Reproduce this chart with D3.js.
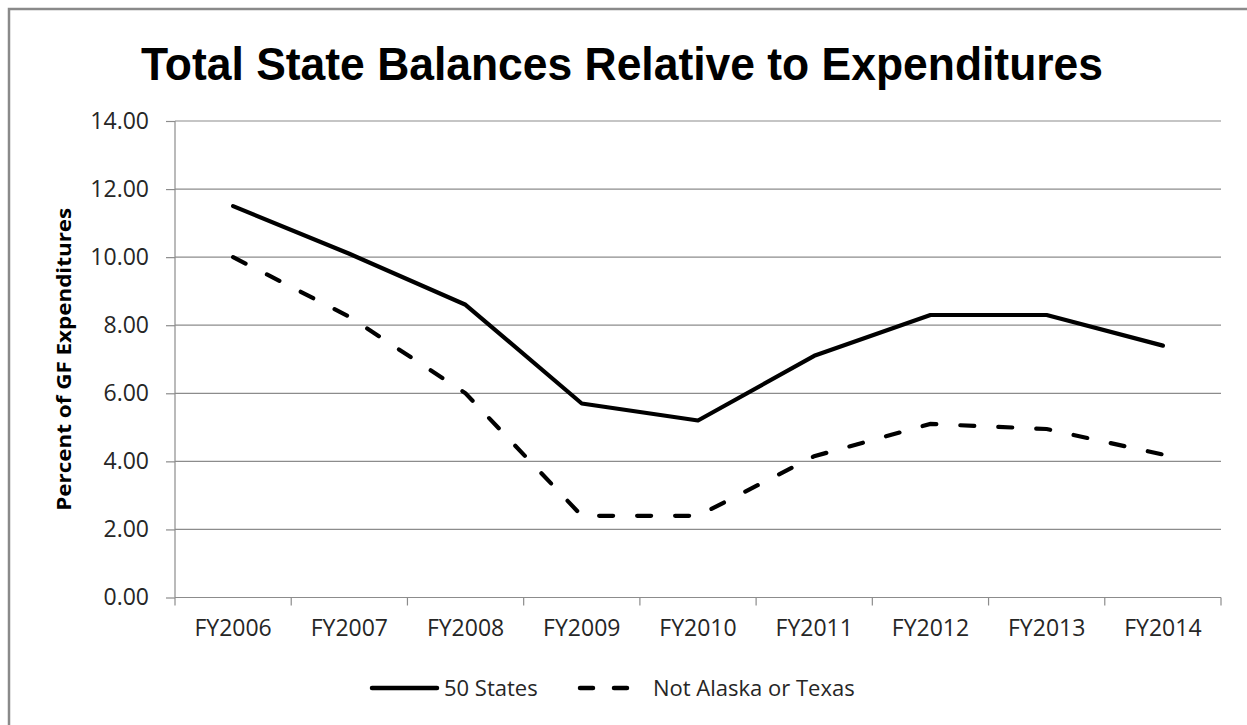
<!DOCTYPE html>
<html>
<head>
<meta charset="utf-8">
<script src="https://cdn.jsdelivr.net/npm/d3@7"></script>
<style>
  html, body { margin: 0; padding: 0; background: #fff; }
  svg { display: block; }
</style>
</head>
<body>
<div id="chart"></div>
<script>
// ---- data ----
const categories = ["FY2006", "FY2007", "FY2008", "FY2009", "FY2010", "FY2011", "FY2012", "FY2013", "FY2014"];
const states50 = [11.5, 10.1, 8.6, 5.7, 5.2, 7.1, 8.3, 8.3, 7.4];
const notAlaskaTexas = [10.0, 8.25, 6.0, 2.4, 2.4, 4.15, 5.1, 4.95, 4.2];
const yTicks = [0, 2, 4, 6, 8, 10, 12, 14];
const seriesNames = ["50 States", "Not Alaska or Texas"];
const titleText = "Total State Balances Relative to Expenditures";
const yTitle = "Percent of GF Expenditures";

// ---- layout ----
const W = 1247, H = 725;
const plot = { left: 175, right: 1221, top: 121, bottom: 597.5 };
const font = "'Open Sans', 'Liberation Sans', sans-serif";

const svg = d3.select("#chart").append("svg")
  .attr("width", W).attr("height", H);

svg.append("rect").attr("width", W).attr("height", H).attr("fill", "#fff");

// outer frame
svg.append("rect")
  .attr("x", 9).attr("y", 9)
  .attr("width", W + 20).attr("height", H + 20)
  .attr("fill", "none").attr("stroke", "#8a8a8a").attr("stroke-width", 2.5);

const x = d3.scaleBand().domain(categories).range([plot.left, plot.right]);
const y = d3.scaleLinear().domain([0, 14]).range([plot.bottom, plot.top]);

// gridlines
svg.append("g").selectAll("line").data(yTicks.filter(d => d > 0)).join("line")
  .attr("x1", plot.left).attr("x2", plot.right)
  .attr("y1", d => y(d)).attr("y2", d => y(d))
  .attr("stroke", "#8c8c8c").attr("stroke-width", 1.2);

// y axis
const yAxis = d3.axisLeft(y).tickValues(yTicks).tickFormat(d3.format(".2f")).tickSize(9).tickPadding(17);
const gy = svg.append("g").attr("transform", `translate(${plot.left},0)`).call(yAxis);
gy.select(".domain").attr("stroke", "#8c8c8c").attr("stroke-width", 1.2).attr("d", `M0,${plot.top}V${plot.bottom}`);
gy.selectAll(".tick line").attr("stroke", "#8c8c8c").attr("stroke-width", 1.2);
gy.selectAll(".tick text").attr("font-family", font).attr("font-size", 23).attr("fill", "#262626");

// x axis
const xAxis = d3.axisBottom(x).tickSize(0).tickPadding(22);
const gx = svg.append("g").attr("transform", `translate(0,${plot.bottom})`).call(xAxis);
gx.select(".domain").attr("stroke", "#8c8c8c").attr("stroke-width", 1.2).attr("d", `M${plot.left},0H${plot.right}`);
gx.selectAll(".tick text").attr("font-family", font).attr("font-size", 23).attr("fill", "#262626");
// category boundary tick marks
const bounds = categories.map(c => x(c)).concat([x(categories[categories.length - 1]) + x.bandwidth()]);
svg.append("g").selectAll("line").data(bounds).join("line")
  .attr("x1", d => d).attr("x2", d => d)
  .attr("y1", plot.bottom).attr("y2", plot.bottom + 8)
  .attr("stroke", "#8c8c8c").attr("stroke-width", 1.2);

// lines
const line = d3.line()
  .x((d, i) => x(categories[i]) + x.bandwidth() / 2)
  .y(d => y(d));

svg.append("path").datum(states50)
  .attr("d", line).attr("fill", "none")
  .attr("stroke", "#000").attr("stroke-width", 4.2)
  .attr("stroke-linejoin", "round").attr("stroke-linecap", "round");

svg.append("path").datum(notAlaskaTexas)
  .attr("d", line).attr("fill", "none")
  .attr("stroke", "#000").attr("stroke-width", 4.2)
  .attr("stroke-dasharray", "14,24")
  .attr("stroke-linecap", "round");

// title
svg.append("text")
  .attr("x", 622).attr("y", 80)
  .attr("text-anchor", "middle")
  .attr("font-family", "'Liberation Sans Narrow', 'Liberation Sans', 'Open Sans', sans-serif")
  .attr("font-weight", "bold").attr("font-size", 46)
  .attr("textLength", 962).attr("lengthAdjust", "spacingAndGlyphs")
  .attr("fill", "#000")
  .text(titleText);

// y title
svg.append("text")
  .attr("transform", `translate(71,${(plot.top + plot.bottom) / 2}) rotate(-90)`)
  .attr("text-anchor", "middle")
  .attr("font-family", font).attr("font-weight", "bold").attr("font-size", 20)
  .attr("textLength", 303).attr("lengthAdjust", "spacingAndGlyphs")
  .attr("fill", "#000")
  .text(yTitle);

// legend
const legY = 688;
const leg = svg.append("g");
leg.append("line").attr("x1", 372).attr("x2", 437).attr("y1", legY).attr("y2", legY)
  .attr("stroke", "#000").attr("stroke-width", 4.5).attr("stroke-linecap", "round");
leg.append("text").attr("x", 444).attr("y", legY + 8)
  .attr("font-family", font).attr("font-size", 22).attr("fill", "#262626")
  .text(seriesNames[0]);
leg.append("line").attr("x1", 580).attr("x2", 631).attr("y1", legY).attr("y2", legY)
  .attr("stroke", "#000").attr("stroke-width", 4.5).attr("stroke-linecap", "round")
  .attr("stroke-dasharray", "13,21");
leg.append("text").attr("x", 653).attr("y", legY + 8)
  .attr("font-family", font).attr("font-size", 22).attr("fill", "#262626")
  .text(seriesNames[1]);
</script>
</body>
</html>
